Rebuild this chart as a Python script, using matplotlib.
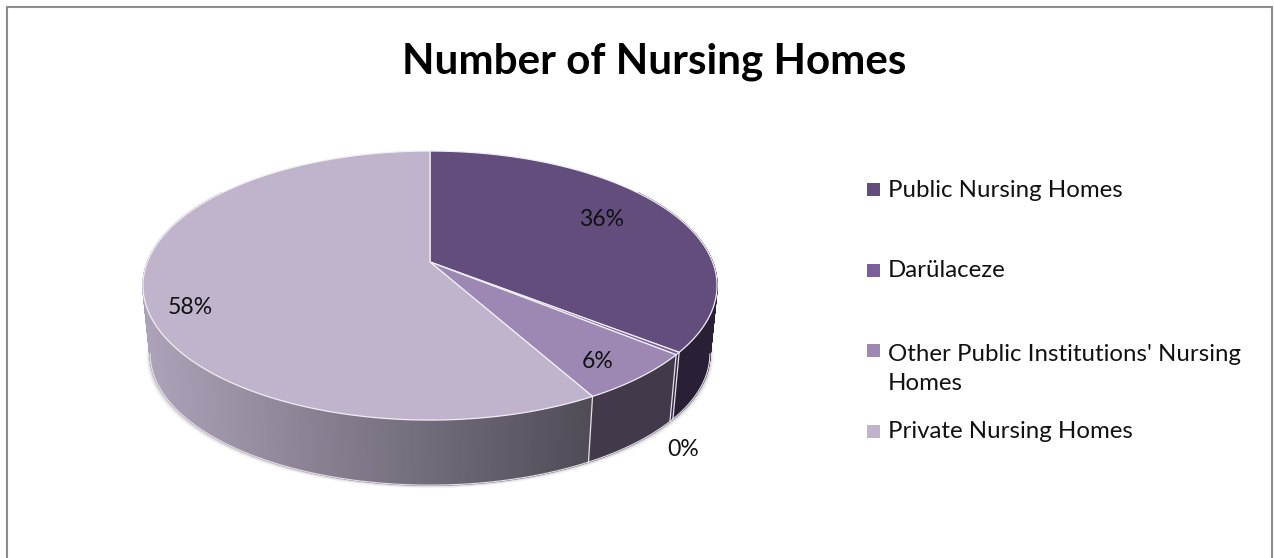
import numpy as np
import matplotlib
matplotlib.use("Agg")
import matplotlib.pyplot as plt
from matplotlib.patches import Polygon, Rectangle

title = "Number of Nursing Homes"
categories = ["Public Nursing Homes", "Darülaceze",
              "Other Public Institutions' Nursing\nHomes", "Private Nursing Homes"]
values = [35.6, 0.3, 6.0, 58.1]
labels = ["36%", "0%", "6%", "58%"]
colors = ["#634d7d", "#7b5f9b", "#9c88b2", "#bfb4cc"]

# layout (pixels)
W, H = 1274, 558
cx, cy = 430, 262
a, b, k = 282.6, 130.4, 0.175
scale_low, drop = 0.975, 69
label_pos = [(602, 220), (683, 450), (598, 362), (190, 308)]
legend_square_y = [189, 270, 350, 431]
legend_base_y = [197, 277, 390, 438]
FONT = "Lato"

fig = plt.figure(figsize=(W / 100, H / 100), dpi=100)
ax = fig.add_axes([0, 0, 1, 1])
ax.set_xlim(0, W)
ax.set_ylim(H, 0)
ax.axis("off")
# frame: left, top and right only
ax.plot([7, 7, 1272, 1272], [H, 7, 7, H], color="#8c8c8c", lw=1.5, solid_joinstyle="miter")


def top(phi):
    X, Y = np.sin(phi), np.cos(phi)
    w = 1 + k * Y
    return cx + a * X / w, cy - b * Y / w


def low(phi):
    x, y = top(phi)
    return cx + scale_low * (x - cx), cy + scale_low * (y - cy) + drop


def shade(x):
    return np.interp(x, [148, 590, 720], [0.90, 0.42, 0.42])


edges = 2 * np.pi * np.concatenate([[0], np.cumsum(values)]) / sum(values)
wall0, wall1 = np.pi * 0.30, np.pi * 1.70
rim0, rim1 = np.pi / 2 + np.arcsin(k), 3 * np.pi / 2 - np.arcsin(k)

# soft shadow beneath the rim
ph = np.linspace(wall0, wall1, 240)
lx, ly = low(ph)
for off, al in [(4, 0.04), (3, 0.06), (2, 0.09), (1, 0.12)]:
    sx = cx + (lx - cx) * (1 + off / 290)
    ax.add_patch(Polygon(np.c_[sx, ly + off * 0.8], closed=True,
                         fc="#444444", ec="none", alpha=al, zorder=1))

# side walls (only the front half is visible)
for s, col in enumerate(colors):
    rgb = np.array(matplotlib.colors.to_rgb(col))
    p0, p1 = edges[s], edges[s + 1]
    vis0, vis1 = max(p0, wall0), min(p1, wall1)
    if vis1 <= vis0:
        continue
    n = max(2, int((vis1 - vis0) * 120))
    ts = np.linspace(vis0, vis1, n + 1)
    for t0, t1 in zip(ts[:-1], ts[1:]):
        x0, y0 = top(t0)
        x1, y1 = top(t1)
        x2, y2 = low(t1)
        x3, y3 = low(t0)
        c = rgb * shade((x0 + x1) / 2)
        ax.add_patch(Polygon([(x0, y0), (x1, y1), (x2, y2), (x3, y3)],
                             fc=c, ec=c, lw=1.0, zorder=2))
    r0, r1 = max(p0, rim0), min(p1, rim1)
    if r1 > r0:
        ax.plot(*low(np.linspace(r0, r1, 80)), color="#e4e0e8", lw=0.8, zorder=3)
for p in edges[1:-1]:
    ax.plot(*zip(top(p), low(p)), color="#e4e0e8", lw=0.9, zorder=3)

# top faces
for s, col in enumerate(colors):
    ts = np.linspace(edges[s], edges[s + 1], max(3, int(values[s] * 8)))
    x, y = top(ts)
    ax.add_patch(Polygon(np.r_[[[cx, cy]], np.c_[x, y]], closed=True, fc=col,
                         ec="#f0eef3", lw=0.9, joinstyle="round", zorder=4))

for lab, (x, y) in zip(labels, label_pos):
    ax.text(x, y, lab, ha="center", va="center", fontsize=16.6, family=FONT,
            color="#111111", zorder=5)

ax.text(654.5, 62, title, ha="center", va="center", fontsize=30.3, fontweight="bold",
        family=FONT, color="black")

for name, col, ys, yb in zip(categories, colors, legend_square_y, legend_base_y):
    ax.add_patch(Rectangle((867, ys - 6.5), 13, 13, fc=col, ec="none"))
    ax.text(888, yb, name, ha="left", va="baseline", fontsize=17.3, family=FONT,
            color="#111111", linespacing=1.45)

fig.savefig("out.png", dpi=100)
